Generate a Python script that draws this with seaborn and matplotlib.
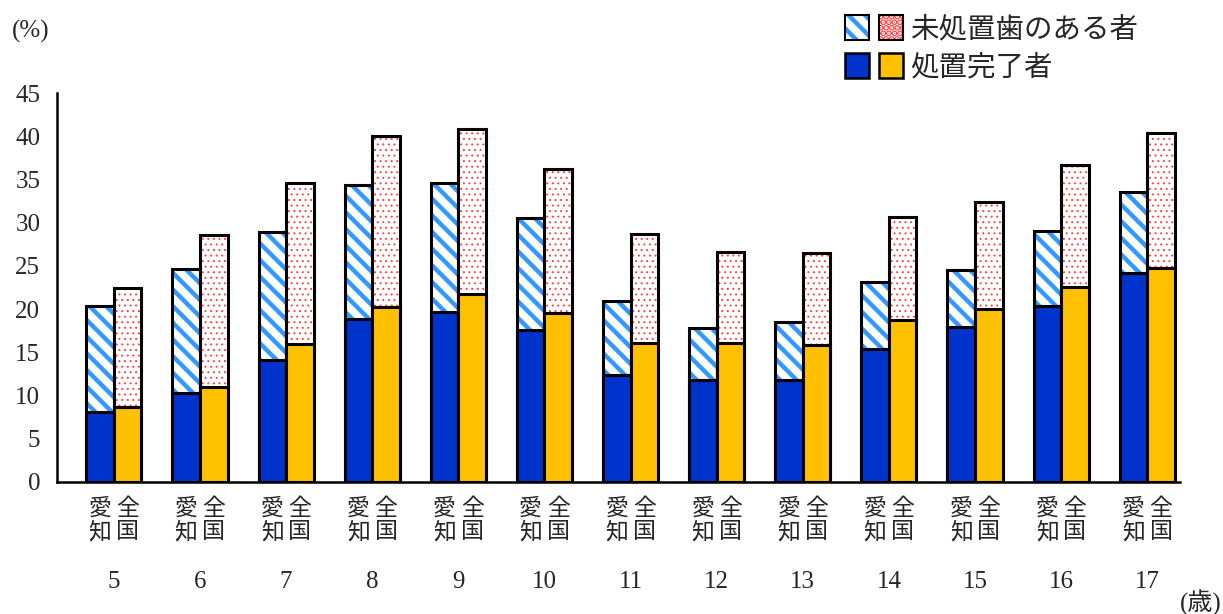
import numpy as np
import pandas as pd
import matplotlib
matplotlib.use('Agg')
import matplotlib.pyplot as plt
import seaborn as sns
from matplotlib.patches import Patch
from matplotlib.legend_handler import HandlerTuple
from matplotlib.colors import to_rgba

# データ (%)
ages = ['5', '6', '7', '8', '9', '10', '11', '12', '13', '14', '15', '16', '17']
regions = ['愛知', '全国']
aichi_total = [20.4, 24.6, 28.9, 34.4, 34.6, 30.5, 20.9, 17.8, 18.5, 23.1, 24.5, 29.0, 33.6]
aichi_treated = [8.1, 10.3, 14.1, 18.9, 19.7, 17.6, 12.4, 11.8, 11.8, 15.4, 17.9, 20.4, 24.2]
zenkoku_total = [22.5, 28.6, 34.6, 40.0, 40.8, 36.2, 28.7, 26.6, 26.5, 30.7, 32.4, 36.7, 40.4]
zenkoku_treated = [8.7, 11.0, 16.0, 20.3, 21.7, 19.6, 16.1, 16.1, 15.9, 18.7, 20.0, 22.6, 24.8]

df = pd.DataFrame({
    'age': ages * 2,
    'region': ['愛知'] * len(ages) + ['全国'] * len(ages),
    'total': aichi_total + zenkoku_total,
    'treated': aichi_treated + zenkoku_treated,
})

BLUE = '#0033CC'
YELLOW = '#FFC000'
STRIPE = '#3399FF'
DOT = '#FF4040'
STRIPE_HATCH = '\\\\'
DOT_HATCH = '...'

sns.set_style('white')
plt.rcParams['font.family'] = ['Liberation Serif', 'Noto Sans CJK JP']
plt.rcParams['hatch.linewidth'] = 3.2


def style_hatch(p, hatch, color, hlw):
    p.set_hatch(hatch)
    if hasattr(p, 'set_hatchcolor'):
        p.set_hatchcolor(color)
    else:
        p._hatch_color = to_rgba(color)
    if hasattr(p, 'set_hatch_linewidth'):
        p.set_hatch_linewidth(hlw)


fig = plt.figure(figsize=(12.23, 6.14), dpi=100)
ax = fig.add_axes([57 / 1223, 132 / 614, (1180 - 57) / 1223, (482 - 93) / 614])

# 未処置歯のある者 (全体の高さ)
sns.barplot(data=df, x='age', y='total', hue='region', order=ages, hue_order=regions,
            palette=['white', 'white'], saturation=1, width=0.64, gap=0, dodge=True,
            errorbar=None, legend=False, edgecolor='black', linewidth=2.2, ax=ax)
# 処置完了者
sns.barplot(data=df, x='age', y='treated', hue='region', order=ages, hue_order=regions,
            palette=[BLUE, YELLOW], saturation=1, width=0.64, gap=0, dodge=True,
            errorbar=None, legend=False, edgecolor='black', linewidth=2.2, ax=ax)

for p in ax.containers[0]:
    style_hatch(p, STRIPE_HATCH, STRIPE, 3.2)
for p in ax.containers[1]:
    style_hatch(p, DOT_HATCH, DOT, 0.7)

ax.set_ylim(0, 45)
ax.set_xlim(-0.66, 12.38)
ax.set_yticks(range(0, 46, 5))
ax.set_ylabel('')
ax.set_xlabel('')

# x軸ラベル
ax.set_xticks(range(len(ages)))
ax.set_xticklabels(ages, fontsize=18)
centers = [p.get_x() + p.get_width() / 2 for c in ax.containers[:2] for p in c]
minor_labels = ['愛\n知'] * len(ages) + ['全\n国'] * len(ages)
ax.set_xticks(centers, minor=True)
ax.set_xticklabels(minor_labels, minor=True, fontsize=16.5, linespacing=1.1)
ax.tick_params(axis='x', which='major', length=0, pad=64)
ax.tick_params(axis='x', which='minor', length=0, pad=12)
ax.tick_params(axis='y', direction='in', length=4, width=1.5, labelsize=18, pad=12)

for s in ['top', 'right']:
    ax.spines[s].set_visible(False)
for s in ['left', 'bottom']:
    ax.spines[s].set_linewidth(1.8)
    ax.spines[s].set_color('black')

fig.text(12 / 1223, 1 - 31 / 614, '(%)', fontsize=18, va='center', ha='left')
fig.text(1222 / 1223, 1 - 603 / 614, '(歳)', fontsize=18, va='center', ha='right')

# 凡例
h_blue_stripe = Patch(facecolor='white', edgecolor='black', linewidth=1.5)
style_hatch(h_blue_stripe, STRIPE_HATCH, STRIPE, 3.2)
h_red_dot = Patch(facecolor='white', edgecolor='black', linewidth=1.5)
style_hatch(h_red_dot, DOT_HATCH, DOT, 0.7)
h_blue = Patch(facecolor=BLUE, edgecolor='black', linewidth=1.8)
h_yellow = Patch(facecolor=YELLOW, edgecolor='black', linewidth=1.8)

fig.legend([(h_blue_stripe, h_red_dot), (h_blue, h_yellow)],
           ['未処置歯のある者', '処置完了者'],
           handler_map={tuple: HandlerTuple(ndivide=None, pad=0.35)},
           loc='upper left', bbox_to_anchor=(845 / 1223, 1 - 15 / 614),
           frameon=False, fontsize=20.5, borderpad=0, borderaxespad=0,
           handlelength=2.05, handleheight=0.95, handletextpad=0.25, labelspacing=0.35)

fig.savefig('out.png', dpi=100)
